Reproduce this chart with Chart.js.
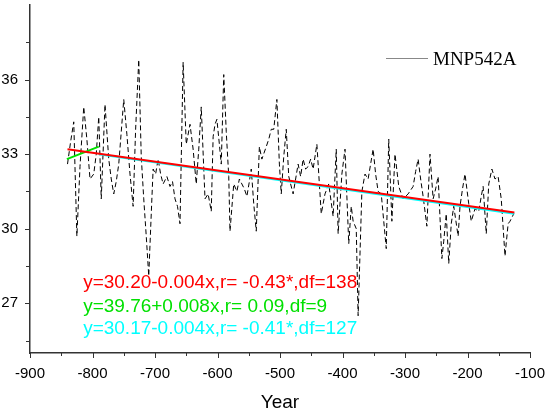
<!DOCTYPE html>
<html>
<head>
<meta charset="utf-8">
<script src="https://cdn.jsdelivr.net/npm/chart.js@4.4.1/dist/chart.umd.min.js"></script>
<style>
  body { margin: 0; background: #fff; }
  canvas { display: block; }
</style>
</head>
<body>
<canvas id="myChart" width="552" height="416"></canvas>
<script>
// MNP542A series
const years = [
  -840, -835, -830, -825, -820, -814, -809, -804, -798, -794, -790, -786, -780, -774, -770, -766,
  -762, -758, -754, -750, -745, -740, -735, -731, -726, -722, -718, -714, -710, -706, -703, -699,
  -695, -691, -687, -681, -676, -672, -668, -664, -660, -658, -655, -650, -644, -639, -634, -630,
  -626, -620, -615, -610, -607, -604, -601, -597, -594, -590, -586, -582, -580, -574, -569, -565,
  -561, -557, -553, -549, -546, -542, -538, -533, -529, -522, -518, -514, -510, -505, -501, -498,
  -494, -490, -486, -479, -475, -471, -467, -463, -459, -455, -451, -447, -441, -434, -428, -422,
  -415, -410, -407, -401, -396, -390, -386, -383, -378, -375, -369, -364, -359, -355, -351, -347,
  -343, -338, -330, -326, -321, -316, -310, -303, -295, -287, -283, -279, -275, -271, -265, -260,
  -255, -251, -247, -241, -238, -234, -230, -226, -222, -215, -212, -208, -204, -198, -194, -188,
  -182, -178, -175, -170, -166, -161, -156, -151, -146, -140, -135, -132, -126
];
const values = [
  32.6, 33.5, 34.3, 29.7, 32.5, 34.9, 33.6, 32.0, 32.2, 33.0, 34.5, 31.2, 35.0, 32.8, 32.0, 31.4,
  31.9, 32.6, 33.9, 35.2, 33.8, 32.2, 30.9, 34.0, 36.8, 32.9, 31.2, 29.7, 28.1, 30.6, 32.4, 32.2,
  32.8, 32.2, 31.8, 32.1, 31.7, 31.9, 31.2, 30.9, 30.2, 32.8, 36.7, 33.4, 34.2, 33.2, 31.8, 33.2,
  34.9, 31.2, 31.4, 30.7, 33.7, 34.2, 34.4, 33.4, 32.6, 36.2, 33.9, 32.1, 29.9, 31.8, 31.5, 32.0,
  31.8, 31.6, 31.3, 31.9, 32.4, 31.0, 29.9, 33.3, 32.8, 33.3, 33.6, 34.0, 34.0, 35.2, 32.6, 31.4,
  32.9, 34.0, 32.1, 31.4, 32.0, 32.6, 32.1, 32.8, 32.4, 32.5, 32.8, 32.4, 33.4, 30.6, 31.4, 31.8,
  30.5, 33.2, 29.8, 32.2, 33.2, 29.4, 30.9, 30.3, 30.0, 26.5, 31.5, 32.2, 32.0, 32.6, 33.2, 32.2,
  31.5, 31.4, 29.2, 33.6, 30.3, 33.0, 31.7, 31.2, 31.4, 31.7, 32.3, 32.8, 32.0, 31.3, 30.1, 33.0,
  31.2, 31.6, 32.1, 28.8, 29.5, 30.6, 28.6, 30.2, 30.9, 29.7, 30.9, 31.6, 32.2, 31.0, 30.3, 30.8,
  30.7, 31.3, 31.7, 29.8, 31.8, 32.4, 32.0, 32.1, 31.2, 28.9, 30.2, 30.3, 30.6
];

// fitted lines (end points)
const redFitYears = [-840, -125];
const redFitValues = [33.2, 30.65];
const greenFitYears = [-841, -790];
const greenFitValues = [32.8, 33.3];
const cyanFitYears = [-790, -125];
const cyanFitValues = [33.0, 30.6];

// ticks
const xTicks = [-900, -850, -800, -750, -700, -650, -600, -550, -500, -450, -400, -350, -300, -250, -200, -150, -100];
const yTicks = [25.5, 27, 28.5, 30, 31.5, 33, 34.5, 36, 37.5];

const equations = [
  { text: 'y=30.20-0.004x,r= -0.43*,df=138', color: '#ff0000', at: [-815, 27.82] },
  { text: 'y=39.76+0.008x,r= 0.09,df=9', color: '#00e000', at: [-815, 26.86] },
  { text: 'y=30.17-0.004x,r= -0.41*,df=127', color: '#00ffff', at: [-815, 25.97] }
];
const seriesName = 'MNP542A';

const sans = "'Liberation Sans', Arial, sans-serif";
const axisColor = '#333';

const pts = (xs, ys) => xs.map((x, i) => ({ x: x, y: ys[i] }));

const extras = {
    id: 'extras',
    afterDraw(chart) {
        const { ctx } = chart;
        const x = chart.scales.x, y = chart.scales.y;
        ctx.save();
        ctx.strokeStyle = axisColor;
        ctx.lineWidth = 1;
        ctx.beginPath();
        xTicks.forEach(v => {
            const px = Math.round(x.getPixelForValue(v)) + 0.5;
            const len = v % 100 === 0 ? 5 : 3;
            ctx.moveTo(px, x.top);
            ctx.lineTo(px, x.top + len);
        });
        yTicks.forEach(v => {
            const py = Math.round(y.getPixelForValue(v)) + 0.5;
            const len = v % 3 === 0 ? 5 : 4;
            ctx.moveTo(y.right - len, py);
            ctx.lineTo(y.right, py);
        });
        ctx.stroke();

        // equations
        ctx.font = '19px ' + sans;
        ctx.textAlign = 'left';
        ctx.textBaseline = 'middle';
        equations.forEach(e => {
            ctx.fillStyle = e.color;
            ctx.fillText(e.text, x.getPixelForValue(e.at[0]), y.getPixelForValue(e.at[1]));
        });

        // legend
        const area = chart.chartArea;
        const lx = area.right - 144, ly = area.top + 53;
        ctx.strokeStyle = '#888';
        ctx.beginPath();
        ctx.moveTo(lx, ly + 0.5);
        ctx.lineTo(lx + 42, ly + 0.5);
        ctx.stroke();
        ctx.fillStyle = '#000';
        ctx.font = "19px 'Liberation Serif', 'Times New Roman', serif";
        ctx.fillText(seriesName, lx + 47, ly + 2);
        ctx.restore();
    }
};

new Chart(document.getElementById('myChart'), {
    type: 'line',
    data: {
        datasets: [{
            label: 'fit all',
            data: pts(redFitYears, redFitValues),
            borderColor: '#ff0000',
            borderWidth: 2,
            pointRadius: 0
        }, {
            label: 'fit early',
            data: pts(greenFitYears, greenFitValues),
            borderColor: '#00e000',
            borderWidth: 2,
            pointRadius: 0
        }, {
            label: 'fit late',
            data: pts(cyanFitYears, cyanFitValues),
            borderColor: '#00ffff',
            borderWidth: 2,
            pointRadius: 0
        }, {
            label: seriesName,
            data: pts(years, values),
            borderColor: '#000',
            borderWidth: 1,
            borderDash: [5, 3],
            pointRadius: 0,
            tension: 0
        }]
    },
    options: {
        responsive: false,
        animation: false,
        layout: { padding: { left: 0, right: 22, top: 5, bottom: 0 } },
        plugins: {
            legend: { display: false },
            tooltip: { enabled: false }
        },
        scales: {
            x: {
                type: 'linear',
                min: -900,
                max: -100,
                afterBuildTicks: s => { s.ticks = xTicks.map(v => ({ value: v })); },
                afterFit: s => { s.height = 63; s.paddingLeft = 0; s.paddingRight = 0; },
                ticks: {
                    autoSkip: false,
                    maxRotation: 0,
                    padding: 7,
                    color: '#000',
                    font: { family: sans, size: 15 },
                    callback: v => v % 100 === 0 ? v : ''
                },
                grid: { drawOnChartArea: false, color: 'transparent', tickLength: 5 },
                border: { display: true, color: axisColor, width: 1.5 },
                title: {
                    display: true,
                    text: 'Year',
                    color: '#000',
                    font: { family: sans, size: 19, lineHeight: 1.2 },
                    padding: { top: 0, bottom: 2 }
                }
            },
            y: {
                type: 'linear',
                min: 25,
                max: 39,
                afterBuildTicks: s => { s.ticks = yTicks.map(v => ({ value: v })); },
                afterFit: s => { s.width = 30; s.paddingTop = 0; s.paddingBottom = 0; },
                ticks: {
                    padding: 7,
                    color: '#000',
                    font: { family: sans, size: 15 },
                    callback: v => v % 3 === 0 ? v : ''
                },
                grid: { drawOnChartArea: false, color: 'transparent', tickLength: 5 },
                border: { display: true, color: axisColor, width: 1.5 }
            }
        }
    },
    plugins: [extras]
});
</script>
</body>
</html>
